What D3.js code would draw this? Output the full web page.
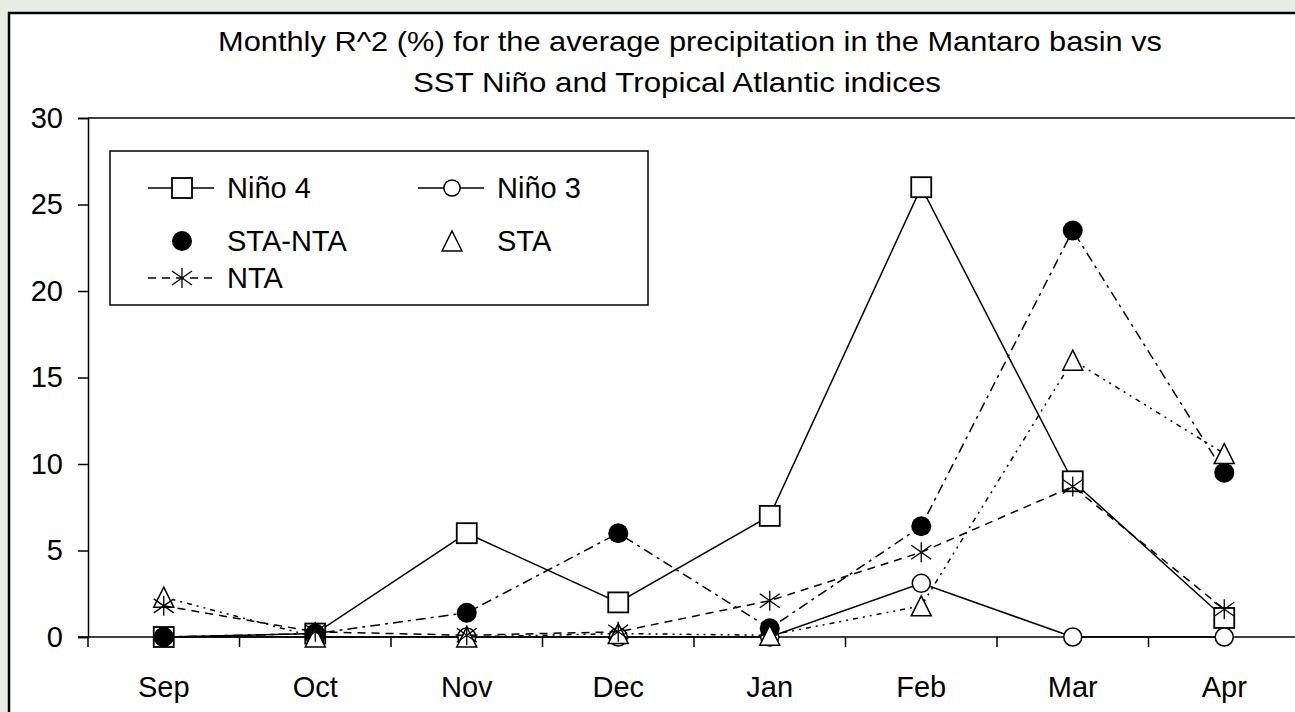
<!DOCTYPE html>
<html lang="en">
<head>
  <meta charset="UTF-8">
  <title>Monthly R^2 Mantaro basin</title>
  <script src="https://d3js.org/d3.v7.min.js"></script>
  <style>
    body { margin: 0; background: #e9ebe5; }
    svg { display: block; font-family: "Liberation Sans", Arial, sans-serif; }
  </style>
</head>
<body>
<svg id="chart" width="1295" height="712"></svg>
<script>
  // Chart values
  const months = ["Sep", "Oct", "Nov", "Dec", "Jan", "Feb", "Mar", "Apr"];
  const nino4  = [0, 0.2, 6, 2, 7, 26, 9, 1.1];
  const nino3  = [0, 0, 0, 0, 0, 3.1, 0, 0];
  const staNta = [0, 0.2, 1.4, 6, 0.5, 6.4, 23.5, 9.5];
  const sta    = [2.3, 0, 0, 0.2, 0.1, 1.8, 16, 10.6];
  const nta    = [1.8, 0.3, 0.1, 0.3, 2.1, 4.9, 8.7, 1.6];
  const yTicks = [0, 5, 10, 15, 20, 25, 30];
  const seriesNames = ["Niño 4", "Niño 3", "STA-NTA", "STA", "NTA"];
  const seriesValues = [nino4, nino3, staNta, sta, nta];

  // drawing styles per series
  const styles = {
    "Niño 4":  { marker: "square",   dash: null,             legendLine: true },
    "Niño 3":  { marker: "circle",   dash: null,             legendLine: true },
    "STA-NTA": { marker: "dot",      dash: "10,5,3,5",       legendLine: false },
    "STA":     { marker: "triangle", dash: "5,5,2,5,2,5",    legendLine: false },
    "NTA":     { marker: "star",     dash: "8,6",            legendLine: true }
  };

  const svg = d3.select("#chart");
  const plotLeft = 88, plotRight = 1300, plotTop = 118, plotBottom = 637;

  // white frame
  svg.append("rect")
     .attr("x", 9).attr("y", 13)
     .attr("width", 1400).attr("height", 800)
     .attr("fill", "#fff").attr("stroke", "#000").attr("stroke-width", 2.5);

  // title (source text is slightly stretched horizontally)
  const title = svg.append("g").attr("font-size", 28).attr("text-anchor", "middle");
  title.append("text").attr("x", 690).attr("y", 51)
       .attr("textLength", 944).attr("lengthAdjust", "spacingAndGlyphs")
       .text("Monthly R^2 (%) for the average precipitation in the Mantaro basin vs");
  title.append("text").attr("x", 677).attr("y", 92)
       .attr("textLength", 528).attr("lengthAdjust", "spacingAndGlyphs")
       .text("SST Niño and Tropical Atlantic indices");

  const x = d3.scaleBand().domain(months).range([plotLeft, plotRight]);
  const y = d3.scaleLinear().domain([0, 30]).range([plotBottom, plotTop]);
  const cx = m => x(m) + x.bandwidth() / 2;

  // top border of plot
  svg.append("line")
     .attr("x1", plotLeft).attr("x2", 1400)
     .attr("y1", y(30)).attr("y2", y(30))
     .attr("stroke", "#000").attr("stroke-width", 1.5);

  // y axis
  const yAxis = svg.append("g")
     .attr("transform", `translate(${plotLeft},0)`)
     .call(d3.axisLeft(y).tickValues(yTicks).tickSize(10).tickPadding(15));
  yAxis.select(".domain").attr("stroke-width", 1.5);
  yAxis.selectAll(".tick line").attr("stroke-width", 1.5);
  yAxis.selectAll("text").attr("font-size", 29).attr("fill", "#000")
       .attr("font-family", "Liberation Sans, Arial, sans-serif");

  // x axis: ticks at band boundaries, labels centered
  svg.append("line")
     .attr("x1", plotLeft - 10).attr("x2", 1400)
     .attr("y1", plotBottom).attr("y2", plotBottom)
     .attr("stroke", "#000").attr("stroke-width", 1.5);
  svg.append("g").selectAll("line")
     .data(months)
     .join("line")
     .attr("x1", d => x(d)).attr("x2", d => x(d))
     .attr("y1", plotBottom).attr("y2", plotBottom + 10)
     .attr("stroke", "#000").attr("stroke-width", 1.5);
  svg.append("g").selectAll("text")
     .data(months)
     .join("text")
     .attr("x", d => cx(d)).attr("y", 697)
     .attr("text-anchor", "middle")
     .attr("font-size", 29)
     .text(d => d);

  // marker drawing
  function drawMarker(g, type, px, py, s) {
    const h = s / 2;
    if (type === "square") {
      g.append("rect").attr("x", px - h).attr("y", py - h)
       .attr("width", s).attr("height", s)
       .attr("fill", "#fff").attr("stroke", "#000").attr("stroke-width", 1.8);
    } else if (type === "circle") {
      g.append("circle").attr("cx", px).attr("cy", py).attr("r", h * 0.9)
       .attr("fill", "#fff").attr("stroke", "#000").attr("stroke-width", 1.5);
    } else if (type === "dot") {
      g.append("circle").attr("cx", px).attr("cy", py).attr("r", h)
       .attr("fill", "#000");
    } else if (type === "triangle") {
      g.append("path")
       .attr("d", `M${px},${py - h}L${px + h},${py + h}L${px - h},${py + h}Z`)
       .attr("fill", "#fff").attr("stroke", "#000").attr("stroke-width", 1.5);
    } else if (type === "star") {
      g.append("path")
       .attr("d", `M${px},${py - h}L${px},${py + h}M${px - h},${py - h * 0.7}L${px + h},${py + h * 0.7}M${px - h},${py + h * 0.7}L${px + h},${py - h * 0.7}`)
       .attr("fill", "none").attr("stroke", "#000").attr("stroke-width", 1.3);
    }
  }

  const line = d3.line().x((d, i) => cx(months[i])).y(d => y(d));

  // series lines and markers, in Excel draw order
  seriesNames.forEach((name, k) => {
    const st = styles[name];
    const g = svg.append("g");
    g.append("path")
     .datum(seriesValues[k])
     .attr("d", line)
     .attr("fill", "none")
     .attr("stroke", "#000")
     .attr("stroke-width", 1.5)
     .attr("stroke-dasharray", st.dash);
    seriesValues[k].forEach((v, i) => drawMarker(g, st.marker, cx(months[i]), y(v), 20));
  });

  // legend
  const lg = svg.append("g");
  lg.append("rect")
    .attr("x", 110).attr("y", 151).attr("width", 538).attr("height", 154)
    .attr("fill", "#fff").attr("stroke", "#000").attr("stroke-width", 1.5);
  const legendPos = [
    { lx: 148, ty: 188 }, { lx: 418, ty: 188 },
    { lx: 148, ty: 241 }, { lx: 418, ty: 241 },
    { lx: 148, ty: 278 }
  ];
  seriesNames.forEach((name, k) => {
    const st = styles[name];
    const p = legendPos[k];
    if (st.legendLine) {
      lg.append("line")
        .attr("x1", p.lx).attr("x2", p.lx + 66)
        .attr("y1", p.ty).attr("y2", p.ty)
        .attr("stroke", "#000").attr("stroke-width", 1.5)
        .attr("stroke-dasharray", st.dash);
    }
    drawMarker(lg, st.marker, p.lx + 34, p.ty, name === "Niño 3" ? 18 : 20);
    lg.append("text")
      .attr("x", p.lx + 79).attr("y", p.ty + 10)
      .attr("font-size", 29)
      .text(name);
  });
</script>
</body>
</html>
